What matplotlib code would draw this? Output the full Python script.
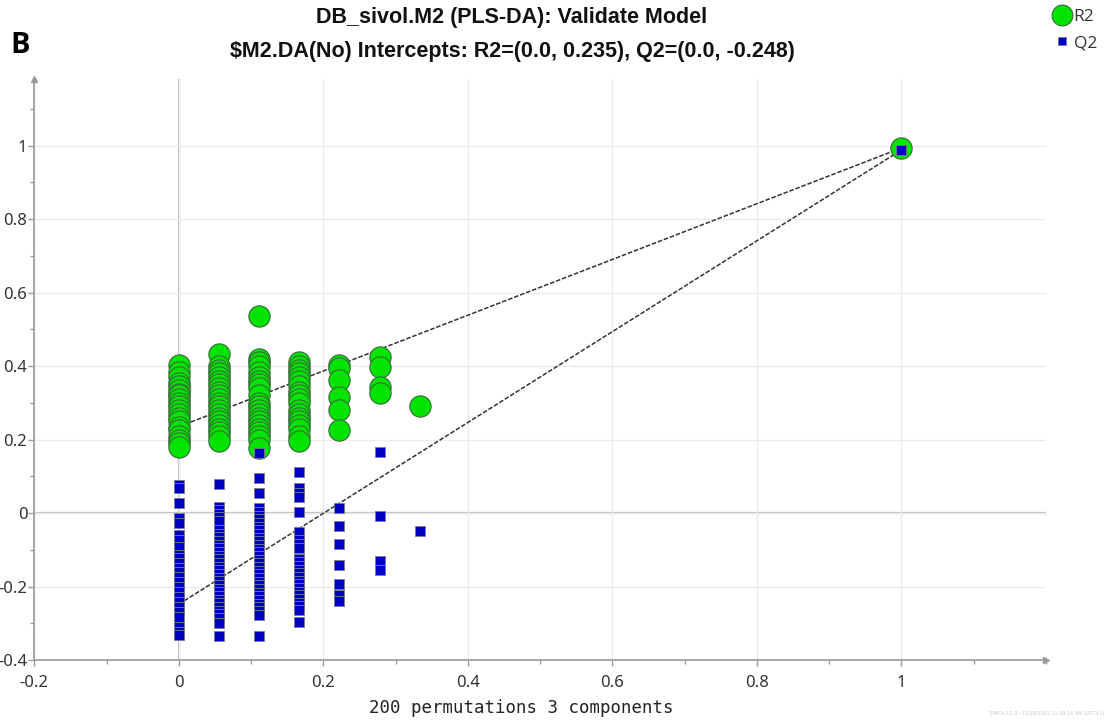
import numpy as np
import matplotlib
matplotlib.use("Agg")
import matplotlib.pyplot as plt
from matplotlib.ticker import FixedLocator, MultipleLocator, FuncFormatter
from matplotlib.lines import Line2D

plt.rcParams['axes.unicode_minus'] = False

# correlation between permuted and original Y (x position of each column)
corr = [0.0, 0.0556, 0.1111, 0.1667, 0.2222, 0.2778, 0.3333]

# R2 of permuted models, per column
r2_cols = [
    [0.403, 0.385, 0.37, 0.355, 0.345, 0.335, 0.325, 0.32, 0.31, 0.30, 0.29,
     0.28, 0.27, 0.26, 0.25, 0.235, 0.225, 0.21, 0.20, 0.19, 0.18],
    [0.432, 0.40, 0.39, 0.38, 0.37, 0.36, 0.35, 0.34, 0.33, 0.32, 0.31, 0.30,
     0.29, 0.28, 0.27, 0.26, 0.25, 0.24, 0.23, 0.22, 0.21, 0.195],
    [0.535, 0.42, 0.41, 0.40, 0.385, 0.37, 0.36, 0.35, 0.34, 0.32, 0.30, 0.29,
     0.28, 0.27, 0.26, 0.25, 0.24, 0.23, 0.22, 0.21, 0.20, 0.178],
    [0.41, 0.40, 0.39, 0.38, 0.37, 0.36, 0.345, 0.33, 0.32, 0.31, 0.30, 0.28,
     0.27, 0.26, 0.25, 0.24, 0.23, 0.21, 0.195],
    [0.403, 0.395, 0.362, 0.316, 0.281, 0.226],
    [0.425, 0.398, 0.343, 0.327],
    [0.29],
]

# Q2 of permuted models, per column
q2_cols = [
    [0.076, 0.067, 0.027, -0.014, -0.028, -0.060, -0.074, -0.092, -0.114,
     -0.123, -0.137, -0.150, -0.160, -0.173, -0.187, -0.200, -0.214, -0.228,
     -0.241, -0.255, -0.269, -0.283, -0.310, -0.324, -0.332],
    [0.078, 0.017, 0.008, -0.002, -0.012, -0.022, -0.046, -0.056, -0.066,
     -0.076, -0.086, -0.096, -0.106, -0.116, -0.126, -0.136, -0.146, -0.156,
     -0.166, -0.176, -0.186, -0.196, -0.206, -0.216, -0.226, -0.236, -0.246,
     -0.256, -0.266, -0.276, -0.286, -0.300, -0.334],
    [0.163, 0.096, 0.054, 0.013, 0.003, -0.007, -0.017, -0.027, -0.037,
     -0.047, -0.057, -0.067, -0.077, -0.087, -0.097, -0.107, -0.117, -0.127,
     -0.137, -0.147, -0.157, -0.167, -0.177, -0.187, -0.197, -0.207, -0.217,
     -0.227, -0.237, -0.247, -0.257, -0.267, -0.278, -0.334],
    [0.111, 0.067, 0.055, 0.044, 0.002, -0.051, -0.074, -0.085, -0.095,
     -0.124, -0.134, -0.144, -0.154, -0.164, -0.174, -0.184, -0.194, -0.204,
     -0.214, -0.224, -0.234, -0.244, -0.254, -0.264, -0.296],
    [0.014, -0.036, -0.085, -0.142, -0.193, -0.224, -0.239],
    [0.166, -0.009, -0.131, -0.155],
    [-0.049],
]

# original model
orig_x = 1.0
orig_r2 = 0.9935
orig_q2 = 0.988

# regression line intercepts
r2_icpt = 0.235
q2_icpt = -0.248

title1 = "DB_sivol.M2 (PLS-DA): Validate Model"
title2 = "$M2.DA(No) Intercepts: R2=(0.0, 0.235), Q2=(0.0, -0.248)"
xlab = "200 permutations 3 components"

r2_x = np.concatenate([[c] * len(v) for c, v in zip(corr, r2_cols)])
r2_y = np.concatenate(r2_cols)
q2_x = np.concatenate([[c] * len(v) for c, v in zip(corr, q2_cols)])
q2_y = np.concatenate(q2_cols)

fig = plt.figure(figsize=(11.07, 7.2), dpi=100)
ax = fig.add_axes([0.031, 0.0833, 0.9137, 0.8063])

ax.set_xlim(-0.2, 1.2)
ax.set_ylim(-0.4, 1.18)

# grid + zero lines
ax.grid(True, color="#ececec", lw=1.0, zorder=0)
ax.axhline(0, color="#bdbdbd", lw=1.6, zorder=1)
ax.axvline(0, color="#bdbdbd", lw=1.6, zorder=1)

# regression lines
ax.plot([0, orig_x], [r2_icpt, orig_r2], ls=(0, (3, 1.2)), color="#333333", lw=1.1, zorder=2)
ax.plot([0, orig_x], [q2_icpt, orig_q2], ls=(0, (3, 1.2)), color="#333333", lw=1.1, zorder=2)

ax.scatter(np.append(r2_x, orig_x), np.append(r2_y, orig_r2), s=235, marker="o",
           facecolor="#00e400", edgecolor="#3d6a3d", linewidth=0.8, zorder=3)
ax.scatter(np.append(q2_x, orig_x), np.append(q2_y, orig_q2), s=52, marker="s",
           facecolor="#0000c4", edgecolor="#7a7a9a", linewidth=0.6, zorder=4)

# axes styling
for s in ["top", "right"]:
    ax.spines[s].set_visible(False)
for s in ["left", "bottom"]:
    ax.spines[s].set_color("#9a9a9a")
    ax.spines[s].set_linewidth(1.2)
ax.plot(1, 0, ">", color="#9a9a9a", ms=5, transform=ax.transAxes, clip_on=False)
ax.plot(0, 1, "^", color="#9a9a9a", ms=5, transform=ax.transAxes, clip_on=False)

ax.xaxis.set_major_locator(FixedLocator([-0.2, 0, 0.2, 0.4, 0.6, 0.8, 1.0]))
ax.yaxis.set_major_locator(FixedLocator([-0.4, -0.2, 0, 0.2, 0.4, 0.6, 0.8, 1.0]))
ax.xaxis.set_minor_locator(MultipleLocator(0.1))
ax.yaxis.set_minor_locator(MultipleLocator(0.1))
fmt = FuncFormatter(lambda v, p: "%g" % round(v, 2))
ax.xaxis.set_major_formatter(fmt)
ax.yaxis.set_major_formatter(fmt)
ax.tick_params(which="both", direction="out", color="#9a9a9a", length=4, width=1,
               labelsize=12, labelcolor="#333333")
ax.tick_params(which="minor", length=3)
ax.tick_params(axis="x", which="major", pad=7)
ax.tick_params(axis="y", which="major", pad=1)
for lab in ax.get_xticklabels() + ax.get_yticklabels():
    lab.set_family(["Noto Sans", "DejaVu Sans"])

ax.set_xlabel(xlab, family="DejaVu Sans Mono", fontsize=12.5, color="#222222")
ax.xaxis.set_label_coords(0.481, -0.067)

tfam = ["Liberation Sans", "DejaVu Sans"]
fig.text(0.4625, 0.975, title1, ha="center", va="center", fontsize=15.5, fontweight="bold",
         family=tfam, color="#111111")
fig.text(0.4625, 0.929, title2, ha="center", va="center", fontsize=15.5, fontweight="bold",
         family=tfam, color="#111111")
fig.text(0.009, 0.937, "B", ha="left", va="center", fontsize=21, fontweight="bold",
         family=["Open Sans", "DejaVu Sans"], color="#000000")

handles = [
    Line2D([], [], marker="o", ls="none", ms=15, markerfacecolor="#00e400",
           markeredgecolor="#3d6a3d", markeredgewidth=0.8, label="R2"),
    Line2D([], [], marker="s", ls="none", ms=6, markerfacecolor="#0000c4",
           markeredgecolor="#7a7a9a", markeredgewidth=0.6, label="Q2"),
]
fig.legend(handles=handles, loc="upper right", bbox_to_anchor=(1.005, 1.01), frameon=False,
           prop={"family": ["Open Sans", "DejaVu Sans"], "size": 12.5}, handletextpad=0.05,
           labelspacing=0.6, handlelength=1.2, labelcolor="#333333")

fig.text(0.998, 0.006, "SIMCA 13.0 - 12/19/2023 11:39:16 AM (UTC+1)", fontsize=3.5,
         color="#c8c8c8", ha="right", va="bottom")

fig.savefig("out.png", dpi=100)
